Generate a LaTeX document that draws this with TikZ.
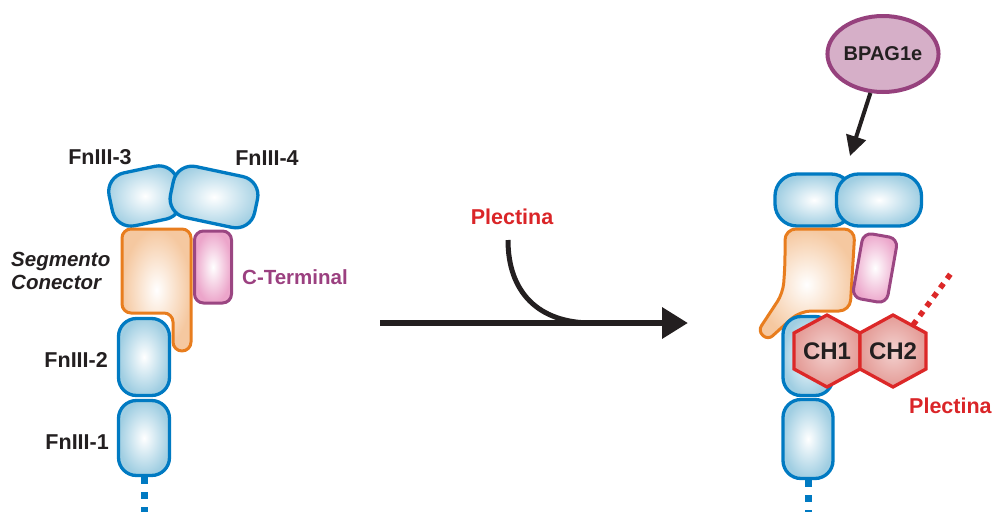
\documentclass[tikz,border=0pt]{standalone}
\usepackage{fontspec}
\setmainfont{Liberation Sans}
\usetikzlibrary{arrows.meta,shapes.geometric}

\definecolor{ink}{RGB}{35,31,32}
\definecolor{blueline}{RGB}{0,122,194}
\definecolor{bluefill}{RGB}{160,206,226}
\definecolor{orangeline}{RGB}{232,125,30}
\definecolor{orangefill}{RGB}{245,200,160}
\definecolor{pinkline}{RGB}{155,70,130}
\definecolor{pinkfill}{RGB}{236,165,202}
\definecolor{redline}{RGB}{220,40,40}
\definecolor{hexfill}{RGB}{228,155,150}
\definecolor{textred}{RGB}{218,37,40}
\definecolor{textpurple}{RGB}{155,64,128}
\definecolor{bpagfill}{RGB}{214,175,200}
\definecolor{bpagline}{RGB}{150,65,125}

\begin{document}
\begin{tikzpicture}[x=1pt,y=-1pt,
  fn/.style={draw=blueline, line width=3.3pt, rounded corners=18pt,
    inner color=white, outer color=bluefill, inner sep=0pt},
  cterm/.style={draw=pinkline, line width=3pt, rounded corners=9pt,
    inner color=white, outer color=pinkfill, inner sep=0pt,
    minimum width=37pt, minimum height=72pt},
  linker/.style={draw=orangeline, line width=3pt, line join=round,
    inner color=white, outer color=orangefill},
  hexa/.style={draw=redline, line width=3.3pt, line join=miter,
    inner color=white!55!hexfill, outer color=hexfill},
  lab/.style={font=\fontsize{21.5}{24}\selectfont\bfseries, text=ink, inner sep=0pt},
  smalllab/.style={font=\fontsize{20.5}{23}\selectfont\bfseries, inner sep=0pt},
  bluedots/.style={draw=blueline, line width=7pt, dash pattern=on 7pt off 8pt},
  reddots/.style={draw=redline, line width=5.5pt, dash pattern=on 5.5pt off 6pt},
  bigarrow/.style={draw=ink, line width=6.5pt, -{Triangle[length=26pt,width=30pt]}},
  smallarrow/.style={draw=ink, line width=4pt, -{Triangle[length=20pt,width=20pt]}}
]
\useasboundingbox (0,0) rectangle (997,512);

% ---------- free tenascin-like module (left) ----------
\node[fn, rounded corners=19pt, rotate=12, minimum width=70pt, minimum height=54pt] (l3) at (145,196) {};
\node[fn, rounded corners=19pt, rotate=-12, minimum width=86pt, minimum height=52pt] (l4) at (214,197) {};

% connecting segment
\draw[linker, rounded corners=9pt]
  (122,270) -- (122,229) -- (191,229) -- (191,351) -- (173,351)
  -- (173,313) -- (122,313) -- cycle;

\node[cterm] (lct) at (213,267) {};

\node[fn, minimum width=51pt, minimum height=77pt] (l2) at (144,357) {};
\node[fn, minimum width=51pt, minimum height=75pt] (l1) at (144,438) {};
\coordinate (lend) at (144,512);
\draw[bluedots] (l1.south) -- (lend);

\node[lab] (t3) at (100,157) {FnIII-3};
\node[lab] (t4) at (267,158) {FnIII-4};
\node[lab, anchor=east] (t2) at (108,360) {FnIII-2};
\node[lab, anchor=east] (t1) at (109,442) {FnIII-1};
\node[smalllab, text=ink, anchor=west, align=left, font=\fontsize{20.5}{23}\selectfont\bfseries\itshape]
  (tseg) at (11,271) {Segmento\\Conector};
\node[smalllab, text=textpurple, anchor=west] (tct) at (242,277) {C-Terminal};

% ---------- reaction arrow ----------
\coordinate (a0) at (380,323);
\coordinate (a1) at (688,323);
\draw[bigarrow] (a0) -- (a1);
\coordinate (c0) at (508,240);
\coordinate (c1) at (592,323);
\draw[draw=ink, line width=5pt] (c0) .. controls (508,292) and (538,323) .. (c1);
\node[lab, text=textred] (tplec1) at (512,217) {Plectina};

% ---------- bound complex (right) ----------
\node[draw=bpagline, line width=4pt, fill=bpagfill, ellipse, inner sep=0pt,
  minimum width=96pt, minimum height=76pt,
  font=\fontsize{20}{22}\selectfont\bfseries, text=ink] (bpag) at (883,54) {BPAG1e};
\coordinate (btip) at (850,156);
\draw[smallarrow] (bpag) -- (btip);

\node[fn, rounded corners=22pt, minimum width=78pt, minimum height=52pt] (r3) at (814,200) {};
\node[fn, rounded corners=22pt, minimum width=85pt, minimum height=52pt] (r4) at (879,200) {};

\draw[linker, rounded corners=11pt]
  (785,265) -- (785,229) -- (855,229) -- (850,311) -- (800,311)
  [rounded corners=6pt] -- (768,340) -- (758,331) [rounded corners=10pt] -- (783,293) -- cycle;

\node[cterm, rotate=-10, minimum width=35pt, minimum height=66pt] (rct) at (875,268) {};

\node[fn, minimum width=50pt, minimum height=79pt] (r2) at (808,356) {};
\node[fn, minimum width=50pt, minimum height=79pt] (r1) at (808,439) {};
\coordinate (rend) at (808,512);
\draw[bluedots] (r1.south) -- (rend);

% calponin-homology domains of plectin
\draw[hexa] (827,315) -- (860,333) -- (860,369) -- (827,387) -- (794,369) -- (794,333) -- cycle;
\draw[hexa] (893,315) -- (926,333) -- (926,369) -- (893,387) -- (860,369) -- (860,333) -- cycle;
\node[font=\fontsize{24}{26}\selectfont\bfseries, text=ink, inner sep=0pt] (ch1) at (827,351) {CH1};
\node[font=\fontsize{24}{26}\selectfont\bfseries, text=ink, inner sep=0pt] (ch2) at (893,351) {CH2};
\coordinate (ch2out) at (913,325);
\coordinate (plecend) at (952,272);
\draw[reddots] (ch2out) -- (plecend);
\node[lab, text=textred, anchor=west] (tplec2) at (909,406) {Plectina};
\end{tikzpicture}
\end{document}
